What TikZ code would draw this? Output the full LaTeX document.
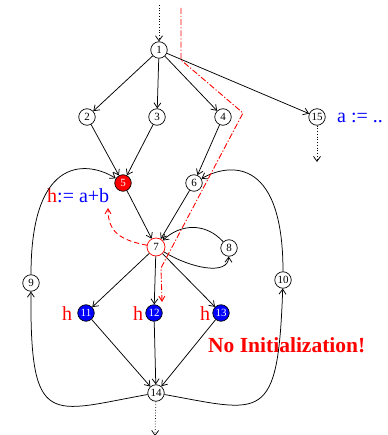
\documentclass[tikz,border=0pt]{standalone}
\usepackage{fontspec}
\setmainfont{Liberation Serif}
\usetikzlibrary{arrows.meta}
\definecolor{pred}{RGB}{255,0,0}
\definecolor{pblue}{RGB}{0,0,255}
\tikzset{
  vert/.style={circle,draw=black,line width=0.7pt,fill=white,inner sep=0pt,minimum size=16.5pt,font=\fontsize{11}{11}\selectfont},
  redv/.style={vert,fill=pred,text=white},
  bluev/.style={vert,fill=pblue,text=white},
  redring/.style={vert,draw=pred,minimum size=18pt},
  edge/.style={line width=0.75pt,-{Straight Barb[length=5pt,width=7pt]}},
  dotedge/.style={edge,dotted},
  big/.style={font=\fontsize{20}{24}\selectfont},
  redflow/.style={pred,line width=0.9pt,-{Straight Barb[length=5pt,width=6pt]}},
}
\begin{document}
\begin{tikzpicture}[x=1pt,y=-1pt]
\useasboundingbox (0,0) rectangle (387,435);
% nodes
\node[vert] (n1) at (159,50) {1};
\node[vert] (n2) at (87,117) {2};
\node[vert] (n3) at (157,117) {3};
\node[vert] (n4) at (223,117) {4};
\node[vert] (n15) at (317,117) {15};
\node[redv] (n5) at (123,183) {5};
\node[vert] (n6) at (194,183) {6};
\node[redring] (n7) at (156,247) {7};
\node[vert] (n8) at (229,248) {8};
\node[vert] (n9) at (31,283) {9};
\node[vert] (n10) at (283,280) {10};
\node[bluev] (n11) at (86,313) {11};
\node[bluev] (n12) at (154,313) {12};
\node[bluev] (n13) at (221,313) {13};
\node[vert] (n14) at (156,393) {14};
\coordinate (top) at (159,5);
\coordinate (bot) at (155,436);
\coordinate (b15) at (317,162);
% labels
\node[big,anchor=base west,inner sep=0pt] (lh) at (47,203) {\textcolor{pred}{h}\textcolor{pblue}{:= a+b}};
\node[big,anchor=base west,inner sep=0pt,text=pblue] (la) at (337,123) {a := ..};
\node[big,anchor=base west,inner sep=0pt,text=pred] (h11) at (62,320) {h};
\node[big,anchor=base west,inner sep=0pt,text=pred] (h12) at (133,320) {h};
\node[big,anchor=base west,inner sep=0pt,text=pred] (h13) at (200,320) {h};
\node[anchor=base west,inner sep=0pt,text=pred,font=\fontsize{21.5}{24}\selectfont\bfseries] (noinit) at (208,352) {No Initialization!};
% edges
\draw[dotedge] (top) -- (n1);
\draw[dotedge] (n14) -- (bot);
\draw[dotedge] (n15) -- (b15);
\draw[edge] (n1) -- (n2);
\draw[edge] (n1) -- (n3);
\draw[edge] (n1) -- (n4);
\draw[edge] (n1) -- (n15);
\draw[edge] (n2) -- (n5);
\draw[edge] (n3) -- (n5);
\draw[edge] (n4) -- (n6);
\draw[edge] (n5) -- (n7);
\draw[edge] (n6) -- (n7);
\draw[edge] (n7) -- (n11);
\draw[edge] (n7) -- (n12);
\draw[edge] (n7) -- (n13);
\draw[edge] (n11) -- (n14);
\draw[edge] (n12) -- (n14);
\draw[edge] (n13) -- (n14);
\draw[edge] (n8) .. controls (205,222) and (180,224) .. (n7);
\draw[edge] (n7) .. controls (190,268) and (228,276) .. (n8);
\draw[edge] (n9) .. controls (31,152) and (90,162) .. (n5);
\draw[edge] (n10) .. controls (283,152) and (225,165) .. (n6);
\draw[edge] (n14) .. controls (50,412) and (30,430) .. (n9);
\draw[edge] (n14) .. controls (262,412) and (278,425) .. (n10);
% red flow
\draw[redflow,dash pattern=on 6pt off 2pt on 1.2pt off 2pt] (181,8) -- (181,60) -- (243,113) -- (161,268) -- (162,302);
\draw[redflow,dash pattern=on 5pt off 3pt] (n7) .. controls (120,240) and (108,232) .. (108,208);
\end{tikzpicture}
\end{document}
